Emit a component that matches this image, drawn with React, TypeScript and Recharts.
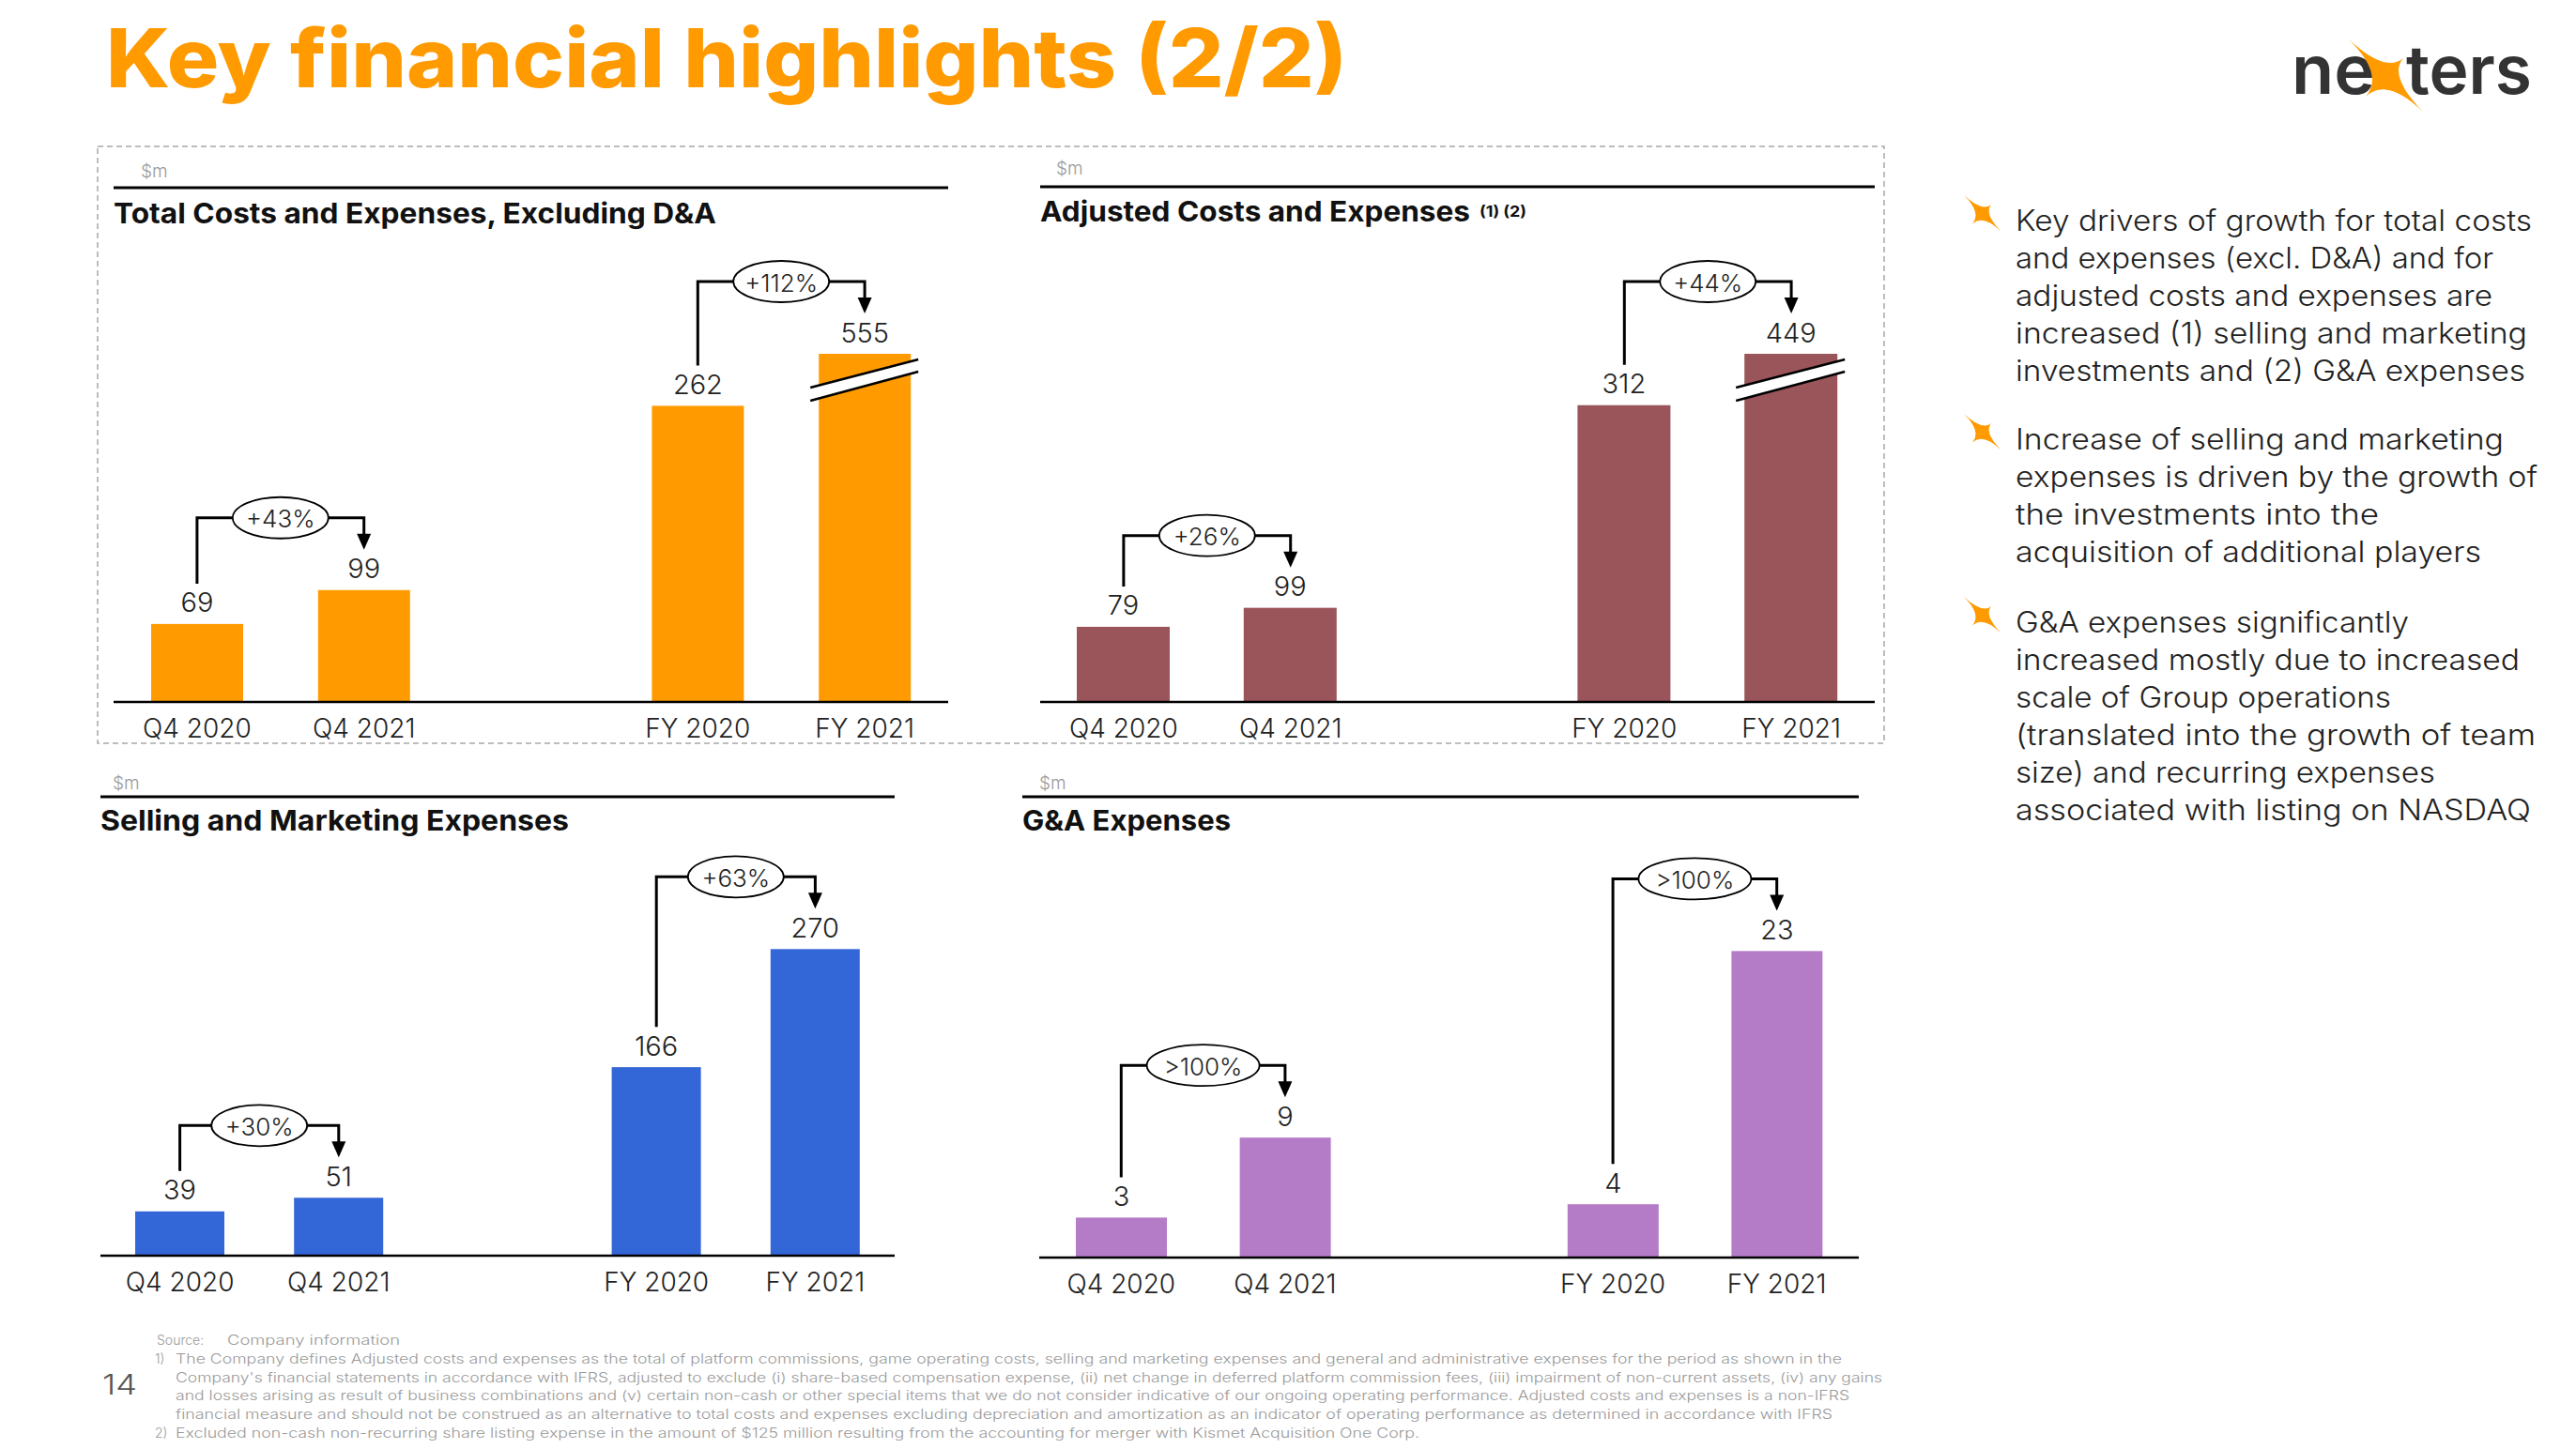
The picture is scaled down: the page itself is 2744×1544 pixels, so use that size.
import React from 'react';
import { BarChart, Bar, XAxis, YAxis, LabelList, ReferenceLine } from 'recharts';

const FONT = "Inter, 'Open Sans', 'DejaVu Sans', sans-serif";

// ---------- data ----------
const categories = ['Q4 2020', 'Q4 2021', '', 'FY 2020', 'FY 2021'];
const totalCostsExDA = [69, 99, null, 262, 555];
const adjustedCosts = [79, 99, null, 312, 449];
const sellingMarketing = [39, 51, null, 166, 270];
const gaExpenses = [3, 9, null, 4, 23];
const quarterGrowth = ['+43%', '+26%', '+30%', '>100%'];
const yearGrowth = ['+112%', '+44%', '+63%', '>100%'];
const panelTitles = [
  'Total Costs and Expenses, Excluding D&A',
  'Adjusted Costs and Expenses',
  'Selling and Marketing Expenses',
  'G&A Expenses',
];
const titleNote = '(1) (2)';
const unitLabel = '$m';
const slideTitle = 'Key financial highlights (2/2)';
const pageNumber = '14';
const bulletLines = [
  [
    'Key drivers of growth for total costs',
    'and expenses (excl. D&A) and for',
    'adjusted costs and expenses are',
    'increased (1) selling and marketing',
    'investments and (2) G&A expenses',
  ],
  [
    'Increase of selling and marketing',
    'expenses is driven by the growth of',
    'the investments into the',
    'acquisition of additional players',
  ],
  [
    'G&A expenses significantly',
    'increased mostly due to increased',
    'scale of Group operations',
    '(translated into the growth of team',
    'size) and recurring expenses',
    'associated with listing on NASDAQ',
  ],
];
const footnoteSource = ['Source:', 'Company information'];
const footnoteMarks = ['1)', '2)'];
const footnoteLines = [
  'The Company defines Adjusted costs and expenses as the total of platform commissions, game operating costs, selling and marketing expenses and general and administrative expenses for the period as shown in the',
  "Company's financial statements in accordance with IFRS, adjusted to exclude (i) share-based compensation expense, (ii)  net change in deferred platform commission fees, (iii) impairment of non-current assets, (iv) any gains",
  'and losses arising as result of business combinations and (v) certain non-cash or other special items that we do not consider indicative of our ongoing operating performance. Adjusted costs and expenses is a non-IFRS',
  'financial measure and should not be construed as an alternative to total costs and expenses excluding depreciation and amortization as an indicator of operating performance as determined in accordance with IFRS',
  'Excluded non-cash non-recurring share listing expense in the amount of $125 million resulting from the accounting for merger with Kismet Acquisition One Corp.',
];

// ---------- layout ----------
const ORANGE = '#FF9A00';
const PANELS = [
  { values: totalCostsExDA, color: '#FF9B00', left: 121, width: 889, plotTop: 377, axisY: 748, yMax: 308, barSize: 98,
    unitX: 150, unitY: 182, ruleY: 200, ruleX1: 121, ruleX2: 1010, titleX: 121, titleY: 238, titleW: 642 },
  { values: adjustedCosts, color: '#9A555A', left: 1108, width: 889, plotTop: 377, axisY: 748, yMax: 366, barSize: 99,
    unitX: 1125, unitY: 179, ruleY: 199, ruleX1: 1108, ruleX2: 1997, titleX: 1108, titleY: 236, titleW: 458 },
  { values: sellingMarketing, color: '#3366D6', left: 107, width: 846, plotTop: 975, axisY: 1338, yMax: 300, barSize: 95,
    unitX: 120, unitY: 834, ruleY: 849, ruleX1: 107, ruleX2: 953, titleX: 107, titleY: 885, titleW: 499 },
  { values: gaExpenses, color: '#B47BC7', left: 1107, width: 873, plotTop: 985, axisY: 1340, yMax: 25, barSize: 97,
    unitX: 1107, unitY: 834, ruleY: 849, ruleX1: 1089, ruleX2: 1980, titleX: 1089, titleY: 885, titleW: 222 },
];
const bulletLineWidths = [
  [550, 509, 508, 545, 543],
  [520, 556, 387, 496],
  [419, 537, 400, 554, 447, 549],
];
const bulletTops = [235, 468, 663];
const footnoteWidths = [1775, 1818, 1783, 1765, 1325];
const footnoteYs = [1447, 1467, 1486, 1506, 1526];

const HEADROOM = 135;
const AXIS_ROOM = 60;

function starPath(cx: number, cy: number, tips: number[][], k: number) {
  let d = `M ${cx + tips[0][0]} ${cy + tips[0][1]}`;
  for (let i = 0; i < 4; i++) {
    const a = tips[i];
    const b = tips[(i + 1) % 4];
    const c = [(a[0] + b[0]) * k, (a[1] + b[1]) * k];
    d += ` Q ${cx + c[0]} ${cy + c[1]} ${cx + b[0]} ${cy + b[1]}`;
  }
  return d + ' Z';
}

const makeShape = (top: number) => (p: any) => {
  const { x, y, width, height, fill } = p;
  if (height == null || y == null || isNaN(y) || !width) return <g />;
  const bottom = y + height;
  const yy = Math.max(y, top);
  const clipped = y < top - 0.5;
  const xl = x - 9;
  const xr = x + width + 8;
  return (
    <g>
      <rect x={x} y={yy} width={width} height={bottom - yy} fill={fill} />
      {clipped && (
        <g>
          <polygon points={`${xl},${yy + 36} ${xr},${yy + 6} ${xr},${yy + 19} ${xl},${yy + 50}`} fill="#fff" />
          <line x1={xl} y1={yy + 36} x2={xr} y2={yy + 6} stroke="#000" strokeWidth={2.5} />
          <line x1={xl} y1={yy + 50} x2={xr} y2={yy + 19} stroke="#000" strokeWidth={2.5} />
        </g>
      )}
    </g>
  );
};

const makeLabel = (top: number) => (p: any) => {
  const vb = p.viewBox || p;
  const x = Number(vb.x);
  const y = Number(vb.y);
  const w = Number(vb.width);
  if (p.value == null || isNaN(x) || isNaN(y)) return null;
  const yy = Math.max(y, top);
  return (
    <text x={x + w / 2} y={yy - 23} textAnchor="middle" dominantBaseline="central" fontFamily={FONT}
      fontWeight={300} fontSize={29} fill="#222">
      {p.value}
    </text>
  );
};

const makeBracket = (label: string, top: number) => (p: any) => {
  const { x1, y1, x2, y2 } = p;
  if ([x1, y1, x2, y2].some((v) => v == null || isNaN(v))) return <g />;
  const ly1 = Math.max(y1, top) - 23;
  const ly2 = Math.max(y2, top) - 23;
  const level = ly2 - 54;
  const start = ly1 - 20;
  const tip = ly2 - 20;
  const cx = (x1 + x2) / 2;
  const rx = label[0] === '>' ? 60 : 51;
  return (
    <g>
      <polyline points={`${x1},${start} ${x1},${level} ${x2},${level} ${x2},${tip - 15}`} fill="none" stroke="#000"
        strokeWidth={3} />
      <polygon points={`${x2 - 7.5},${tip - 17} ${x2 + 7.5},${tip - 17} ${x2},${tip}`} fill="#000" />
      <ellipse cx={cx} cy={level} rx={rx} ry={22} fill="#fff" stroke="#000" strokeWidth={1.8} />
      <text x={cx} y={level + 1} textAnchor="middle" dominantBaseline="central" fontFamily={FONT} fontWeight={300}
        fontSize={26} fill="#222">
        {label}
      </text>
    </g>
  );
};

const CatTick = (p: any) => (
  <text x={p.x} y={p.y + 28} textAnchor="middle" dominantBaseline="central" fontFamily={FONT} fontWeight={300}
    fontSize={28} fill="#222">
    {p.payload && p.payload.value}
  </text>
);

function PanelChart({ p, q, fy }: { p: any; q: string; fy: string }) {
  const chartTop = p.plotTop - HEADROOM;
  const height = p.axisY - chartTop + AXIS_ROOM;
  const data = categories.map((c, i) => ({ period: c, value: p.values[i] }));
  const top = HEADROOM;
  return (
    <div style={{ position: 'absolute', left: p.left, top: chartTop }}>
      <BarChart width={p.width} height={height} data={data} margin={{ top, right: 0, bottom: 0, left: 0 }}>
        <XAxis dataKey="period" type="category" interval={0} tickLine={false} tickSize={0} tickMargin={0}
          height={AXIS_ROOM} axisLine={{ stroke: '#000', strokeWidth: 2.5 }} tick={CatTick} />
        <YAxis hide type="number" domain={[0, p.yMax]} allowDataOverflow />
        <Bar dataKey="value" fill={p.color} barSize={p.barSize} isAnimationActive={false} shape={makeShape(top)}>
          <LabelList dataKey="value" content={makeLabel(top)} />
        </Bar>
        <ReferenceLine ifOverflow="visible"
          segment={[{ x: categories[0], y: p.values[0] }, { x: categories[1], y: p.values[1] }]}
          shape={makeBracket(q, top)} />
        <ReferenceLine ifOverflow="visible"
          segment={[{ x: categories[3], y: p.values[3] }, { x: categories[4], y: p.values[4] }]}
          shape={makeBracket(fy, top)} />
      </BarChart>
    </div>
  );
}

function Star({ cx, cy, s }: { cx: number; cy: number; s: number }) {
  const tips = [[-40, -38], [18, -18], [39, 39], [-22, 23]].map(([a, b]) => [a * s, b * s]);
  return <path d={starPath(cx, cy, tips, 0.03)} fill={ORANGE} />;
}

export default function App() {
  return (
    <div style={{ position: 'absolute', left: 0, top: 0, width: 2744, height: 1544, background: '#fff', overflow: 'hidden' }}>
      <svg width={2744} height={1544} style={{ position: 'absolute', left: 0, top: 0 }} fontFamily={FONT}>
        {/* slide title */}
        <text x={113} y={93} fontSize={87} fontWeight={800} fill={ORANGE} textLength={1322} lengthAdjust="spacingAndGlyphs">
          {slideTitle}
        </text>
        {/* logo */}
        <text x={2441} y={100} fontSize={72} fontWeight={600} fill="#333" textLength={89} lengthAdjust="spacingAndGlyphs">ne</text>
        <Star cx={2542} cy={80} s={1} />
        <text x={2563} y={100} fontSize={72} fontWeight={600} fill="#333" textLength={134} lengthAdjust="spacingAndGlyphs">ters</text>
        {/* dashed frame */}
        <rect x={104} y={156} width={1903} height={636} fill="none" stroke="#A8A8A8" strokeWidth={1.5} strokeDasharray="6 4" />
        {/* panel headers */}
        {PANELS.map((p, i) => (
          <g key={i}>
            <text x={p.unitX} y={p.unitY} dominantBaseline="central" fontSize={19} fontWeight={300} fill="#999">{unitLabel}</text>
            <line x1={p.ruleX1} x2={p.ruleX2} y1={p.ruleY} y2={p.ruleY} stroke="#000" strokeWidth={3} />
            <text x={p.titleX} y={p.titleY} fontSize={30} fontWeight={700} fill="#111" textLength={p.titleW}
              lengthAdjust="spacingAndGlyphs">{panelTitles[i]}</text>
            {i === 1 && (
              <text x={1576} y={231} fontSize={16} fontWeight={700} fill="#111" textLength={50} lengthAdjust="spacingAndGlyphs">
                {titleNote}
              </text>
            )}
          </g>
        ))}
        {/* bullets */}
        {bulletLines.map((lines, b) => (
          <g key={b}>
            <Star cx={2112} cy={bulletTops[b] - 8} s={0.5} />
            {lines.map((l, j) => (
              <text key={j} x={2147} y={bulletTops[b] + j * 40 + 11} fontSize={31} fontWeight={300} fill="#222"
                textLength={bulletLineWidths[b][j]} lengthAdjust="spacingAndGlyphs">{l}</text>
            ))}
          </g>
        ))}
        {/* footnotes */}
        <text x={109} y={1475} dominantBaseline="central" fontSize={30} fontWeight={300} fill="#555" textLength={37}
          lengthAdjust="spacingAndGlyphs">{pageNumber}</text>
        <text x={167} y={1427} dominantBaseline="central" fontSize={14} fontWeight={300} fill="#9A9A9A">{footnoteSource[0]}</text>
        <text x={242} y={1427} dominantBaseline="central" fontSize={14} fontWeight={300} fill="#9A9A9A" textLength={184}
          lengthAdjust="spacingAndGlyphs">{footnoteSource[1]}</text>
        <text x={165} y={footnoteYs[0]} dominantBaseline="central" fontSize={14} fontWeight={300} fill="#9A9A9A">{footnoteMarks[0]}</text>
        {footnoteLines.map((l, i) => (
          <text key={i} x={187} y={footnoteYs[i]} dominantBaseline="central" fontSize={14}
            fontWeight={300} fill="#9A9A9A" textLength={footnoteWidths[i]}
            lengthAdjust="spacingAndGlyphs">{l}</text>
        ))}
        <text x={165} y={footnoteYs[4]} dominantBaseline="central" fontSize={14} fontWeight={300} fill="#9A9A9A">{footnoteMarks[1]}</text>
      </svg>
      {PANELS.map((p, i) => (
        <PanelChart key={i} p={p} q={quarterGrowth[i]} fy={yearGrowth[i]} />
      ))}
    </div>
  );
}
